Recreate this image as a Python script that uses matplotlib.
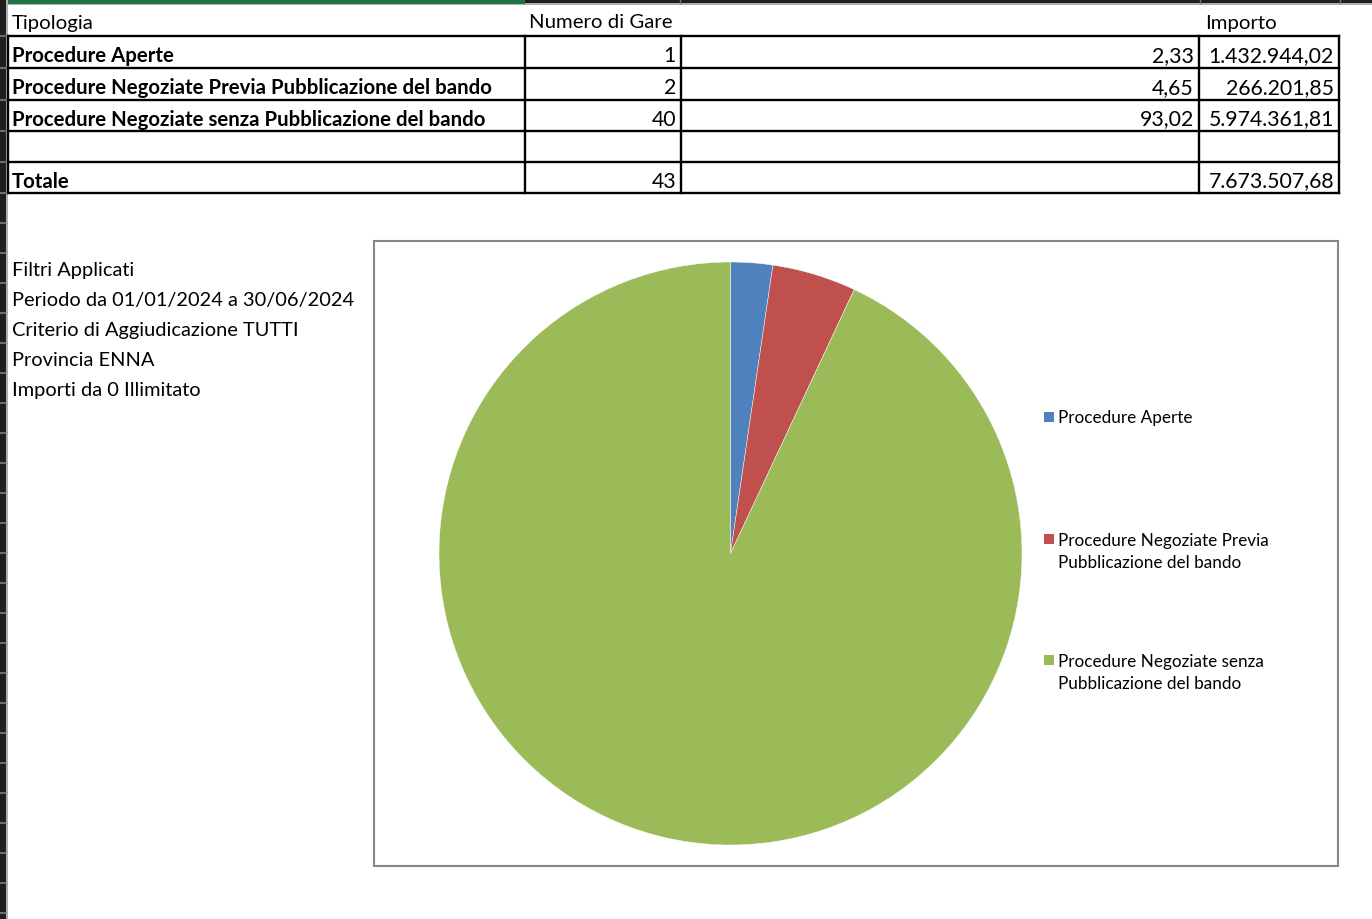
import matplotlib
matplotlib.use('Agg')
from matplotlib import pyplot as plt
from matplotlib.patches import Rectangle

# Dati della tabella
tipologia = ['Procedure Aperte',
             'Procedure Negoziate Previa Pubblicazione del bando',
             'Procedure Negoziate senza Pubblicazione del bando']
numero_gare = [1, 2, 40]
percentuale = [2.33, 4.65, 93.02]
importo = [1432944.02, 266201.85, 5974361.81]
legenda = ['Procedure Aperte',
           'Procedure Negoziate Previa\nPubblicazione del bando',
           'Procedure Negoziate senza\nPubblicazione del bando']
filtri = ['Filtri Applicati',
          'Periodo da 01/01/2024 a 30/06/2024',
          'Criterio di Aggiudicazione TUTTI',
          'Provincia ENNA',
          'Importi da 0 Illimitato']
colori = ['#4F81BD', '#C0504D', '#9BBB59']

FONT = 'Lato'


def it_num(v, dec=2):
    s = f'{v:,.{dec}f}'
    return s.replace(',', 'X').replace('.', ',').replace('X', '.')


fig = plt.figure(figsize=(13.72, 9.2), dpi=100)
ax = fig.add_axes([0, 0, 1, 1])
ax.set_xlim(0, 1372)
ax.set_ylim(920, 0)
ax.axis('off')

# Cornice del foglio: barra in alto e margine a sinistra
ax.add_patch(Rectangle((0, 0), 1372, 4, facecolor='#1f1f1f', lw=0))
ax.add_patch(Rectangle((0, 4), 1372, 2, facecolor='#b0b0b0', lw=0))
ax.add_patch(Rectangle((0, 0), 525, 5, facecolor='#217346', lw=0))
for x in [680, 1200, 1340]:
    ax.plot([x, x], [0, 4], color='#777777', lw=1)
ax.add_patch(Rectangle((0, 0), 6, 920, facecolor='#1f1f1f', lw=0))
ax.add_patch(Rectangle((6, 0), 2, 920, facecolor='#b0b0b0', lw=0))
row_y = [37, 69, 101, 132, 163, 194] + list(range(224, 920, 30))
for y in row_y:
    ax.plot([0, 6], [y, y], color='#808080', lw=1.2)

# Tabella
cols = [8, 525, 681, 1199, 1339]
lines_y = [37, 69, 101, 132, 163, 194]
for y in lines_y:
    ax.plot([cols[0], cols[-1]], [y, y], color='black', lw=1.7, solid_capstyle='projecting')
for x in cols:
    ax.plot([x, x], [lines_y[0], lines_y[-1]], color='black', lw=1.7, solid_capstyle='projecting')

fs = 14.7
fs_num = 15.3
ax.text(12, 23, 'Tipologia', fontsize=fs, family=FONT, va='center', ha='left')
ax.text(601, 23, 'Numero di Gare', fontsize=fs, family=FONT, va='center', ha='center')
ax.text(1241, 23, 'Importo', fontsize=fs, family=FONT, va='center', ha='center')

for i, (t, g, p, imp) in enumerate(zip(tipologia, numero_gare, percentuale, importo)):
    yc = (lines_y[i] + lines_y[i + 1]) / 2 + 3
    ax.text(12, yc, t, fontsize=fs, family=FONT, weight='bold', va='center', ha='left')
    ax.text(cols[2] - 5, yc, str(g), fontsize=fs_num, family=FONT, va='center', ha='right')
    ax.text(cols[3] - 5, yc, it_num(p), fontsize=fs_num, family=FONT, va='center', ha='right')
    ax.text(cols[4] - 5, yc, it_num(imp), fontsize=fs_num, family=FONT, va='center', ha='right')

yc = (lines_y[4] + lines_y[5]) / 2 + 3
ax.text(12, yc, 'Totale', fontsize=fs, family=FONT, weight='bold', va='center', ha='left')
ax.text(cols[2] - 5, yc, str(sum(numero_gare)), fontsize=fs_num, family=FONT, va='center', ha='right')
ax.text(cols[4] - 5, yc, it_num(sum(importo)), fontsize=fs_num, family=FONT, va='center', ha='right')

# Filtri applicati
for i, f in enumerate(filtri):
    ax.text(12, 271 + 30 * i, f, fontsize=14.4, family=FONT, va='center', ha='left')

# Riquadro del grafico
ax.add_patch(Rectangle((374, 242), 964, 625, facecolor='white', edgecolor='#868686', lw=1.5))

# Legenda
leg_y = [418, 552, 673]
for lab, c, y in zip(legenda, colori, leg_y):
    sq_y = y if '\n' not in lab else y - 12
    ax.add_patch(Rectangle((1044, sq_y - 5), 10, 10, facecolor=c, lw=0))
    ax.text(1058, y, lab, fontsize=12.3, family=FONT,
            va='center', ha='left', linespacing=1.45)

# Torta
pie_ax = fig.add_axes([439 / 1372, 74 / 920, 583 / 1372, 583 / 920])
pie_ax.pie(numero_gare, colors=colori, startangle=90, counterclock=False,
           wedgeprops=dict(edgecolor='white', linewidth=0.3), radius=1)
pie_ax.set_xlim(-1, 1)
pie_ax.set_ylim(-1, 1)
pie_ax.axis('off')

fig.savefig('out.png', dpi=100)
